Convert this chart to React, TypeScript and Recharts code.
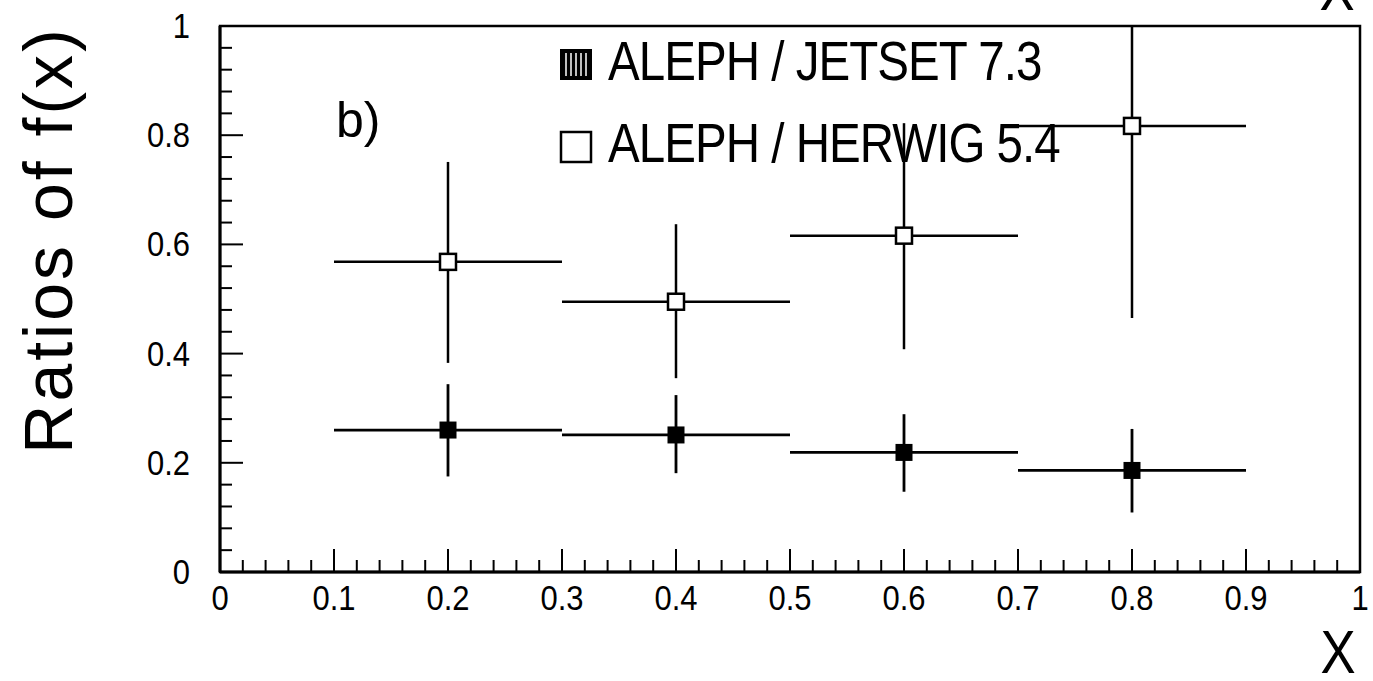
import {
  ComposedChart,
  Scatter,
  ErrorBar,
  XAxis,
  YAxis,
  ReferenceArea,
} from "recharts";

// bin centres and half widths (x = X)
const binCenters = [0.2, 0.4, 0.6, 0.8];
const binHalfWidths = [0.1, 0.1, 0.1, 0.1];

// ALEPH / JETSET 7.3
const jetsetRatio = [0.26, 0.251, 0.219, 0.186];
const jetsetLow = [0.175, 0.181, 0.147, 0.109];
const jetsetHigh = [0.344, 0.324, 0.289, 0.262];

// ALEPH / HERWIG 5.4
const herwigRatio = [0.568, 0.495, 0.616, 0.817];
const herwigLow = [0.383, 0.355, 0.408, 0.465];
const herwigHigh = [0.751, 0.637, 0.822, 1.0];

const xTickLabels = ["0", "0.1", "0.2", "0.3", "0.4", "0.5", "0.6", "0.7", "0.8", "0.9", "1"];
const yTickLabels = ["0", "0.2", "0.4", "0.6", "0.8", "1"];

const W = 1373;
const H = 681;
const PLOT_LEFT = 220;
const PLOT_BOTTOM = 572;
const FONT = "'Liberation Sans', Arial, sans-serif";

const toPoints = (ratio: number[], low: number[], high: number[]) =>
  binCenters.map((x, i) => ({
    x,
    y: ratio[i],
    ex: binHalfWidths[i],
    ey: [ratio[i] - low[i], high[i] - ratio[i]],
  }));

const jetsetData = toPoints(jetsetRatio, jetsetLow, jetsetHigh);
const herwigData = toPoints(herwigRatio, herwigLow, herwigHigh);

// minor ticks every 0.02 on x, 0.04 on y
const xTicks = Array.from({ length: 51 }, (_, i) => Math.round(i * 2) / 100);
const yTicks = Array.from({ length: 26 }, (_, i) => Math.round(i * 4) / 100);

// tall lettering like the original plotting package
const TickText = ({ x, y, anchor, children }: any) => (
  <text
    transform={`translate(${x}, ${y}) scale(1, 1.12)`}
    textAnchor={anchor}
    fontSize={31}
    fontFamily={FONT}
    fill="#000"
  >
    {children}
  </text>
);

const XTick = (props: any) => {
  const { x, payload } = props;
  const v = payload.value;
  const idx = Math.round(v * 10);
  const major = Math.abs(v * 10 - idx) < 1e-6;
  return (
    <g>
      <line x1={x} x2={x} y1={PLOT_BOTTOM} y2={PLOT_BOTTOM - (major ? 23 : 12)} stroke="#000" strokeWidth={2} />
      {major && (
        <TickText x={x} y={610} anchor="middle">
          {xTickLabels[idx]}
        </TickText>
      )}
    </g>
  );
};

const YTick = (props: any) => {
  const { y, payload } = props;
  const v = payload.value;
  const idx = Math.round(v * 5);
  const major = Math.abs(v * 5 - idx) < 1e-6;
  return (
    <g>
      <line x1={PLOT_LEFT} x2={PLOT_LEFT + (major ? 23 : 12)} y1={y} y2={y} stroke="#000" strokeWidth={2} />
      {major && (
        <TickText x={190} y={y + 12} anchor="end">
          {yTickLabels[idx]}
        </TickText>
      )}
    </g>
  );
};

const filledSquare = (props: any) => (
  <rect x={props.cx - 8.5} y={props.cy - 8.5} width={17} height={17} fill="#000" />
);

const openSquare = (props: any) => (
  <rect x={props.cx - 8} y={props.cy - 8} width={16} height={16} fill="#fff" stroke="#000" strokeWidth={2.5} />
);

export default function App() {
  return (
    <div style={{ position: "absolute", left: 0, top: 0, width: W, height: H, background: "#fff" }}>
      <ComposedChart width={W} height={H} margin={{ top: 26, right: 13, left: 140, bottom: 69 }}>
        <XAxis
          type="number"
          dataKey="x"
          domain={[0, 1]}
          ticks={xTicks}
          interval={0}
          height={40}
          tickLine={false}
          axisLine={{ stroke: "#000", strokeWidth: 3 }}
          tick={<XTick />}
        />
        <YAxis
          type="number"
          dataKey="y"
          domain={[0, 1]}
          ticks={yTicks}
          interval={0}
          width={80}
          allowDataOverflow
          tickLine={false}
          axisLine={{ stroke: "#000", strokeWidth: 3 }}
          tick={<YTick />}
        />
        <ReferenceArea x1={0} x2={1} y1={0} y2={1} fill="none" stroke="#000" strokeWidth={2.5} />
        <Scatter data={jetsetData} name="ALEPH / JETSET 7.3" shape={filledSquare} isAnimationActive={false}>
          <ErrorBar dataKey="ex" direction="x" width={0} stroke="#000" strokeWidth={2.8} />
          <ErrorBar dataKey="ey" direction="y" width={0} stroke="#000" strokeWidth={2.8} />
        </Scatter>
        <Scatter data={herwigData} name="ALEPH / HERWIG 5.4" shape={openSquare} isAnimationActive={false}>
          <ErrorBar dataKey="ex" direction="x" width={0} stroke="#000" strokeWidth={2.5} />
          <ErrorBar dataKey="ey" direction="y" width={0} stroke="#000" strokeWidth={2.5} />
        </Scatter>
      </ComposedChart>

      <svg
        width={W}
        height={H}
        style={{ position: "absolute", left: 0, top: 0, pointerEvents: "none" }}
        fontFamily={FONT}
      >
        {/* legend */}
        <rect x={560} y={49} width={32} height={31} fill="#000" />
        {[566, 571, 576, 581, 586].map((sx) => (
          <line key={sx} x1={sx} x2={sx} y1={53} y2={76} stroke="#fff" strokeWidth={1.5} />
        ))}
        <text transform="translate(608, 80) scale(0.95, 1.1)" fontSize={50} letterSpacing={-1} fill="#000">
          ALEPH / JETSET 7.3
        </text>
        <rect x={561} y={132} width={30} height={30} fill="#fff" stroke="#000" strokeWidth={2.5} />
        <text transform="translate(608, 162) scale(0.95, 1.1)" fontSize={50} letterSpacing={-1} fill="#000">
          ALEPH / HERWIG 5.4
        </text>

        <text x={336} y={137} fontSize={50} fill="#000">
          b)
        </text>

        {/* axis titles */}
        <text
          transform="translate(72, 240) rotate(-90)"
          textAnchor="middle"
          fontSize={68}
          letterSpacing={3}
          fill="#000"
        >
          Ratios of f(x)
        </text>
        <text transform="translate(1338, 673) scale(0.85, 1)" textAnchor="middle" fontSize={62} fill="#000">
          X
        </text>
        <text transform="translate(1337, 10) scale(0.85, 1)" textAnchor="middle" fontSize={62} fill="#000">
          X
        </text>
      </svg>
    </div>
  );
}
